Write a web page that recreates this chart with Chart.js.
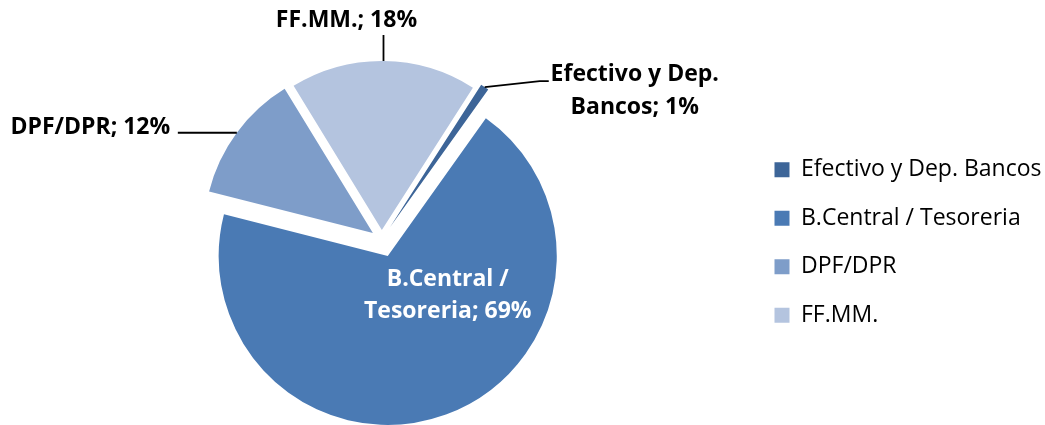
<!DOCTYPE html>
<html>
<head>
<meta charset="utf-8">
<script src="https://cdn.jsdelivr.net/npm/chart.js@4.4.0/dist/chart.umd.min.js"></script>
<style>
  html, body { margin: 0; padding: 0; background: #ffffff; }
  #wrap { width: 1045px; height: 425px; position: relative; }
</style>
</head>
<body>
<div id="wrap"><canvas id="c" width="1045" height="425"></canvas></div>
<script>
// ---- data ----
const categories = ['Efectivo y Dep. Bancos', 'B.Central / Tesoreria', 'DPF/DPR', 'FF.MM.'];
const values = [0.8, 69.1, 12.3, 17.8];

// ---- styles / layout (kept apart from the data) ----
const colors = ['#3D6598', '#4A7AB4', '#7E9DC9', '#B4C4DF'];
const explode = [15, 17.5, 11, 9.5];
const labelFontFamily = "'Open Sans', sans-serif";
const labelFontSize = 23;
const labelLineGap = 32.5;
// dx/dy: text-block centre relative to anchor (outer mid-point of slice, or slice centre for inside labels)
const labelLayout = [
  { inside: false, color: '#000', wrap: 180, dx: 150, dy: 2.5, leader: [[55, -6], [64, -6]] },
  { inside: true,  color: '#fff', wrap: 180, dx: 60,  dy: 37.75, leader: [] },
  { inside: false, color: '#000', wrap: 1000, dx: -146.5, dy: -7, leader: [[-59, 0]] },
  { inside: false, color: '#000', wrap: 1000, dx: -37, dy: -42.5, leader: [[0, -26]] }
];

function wrapText(ctx, text, maxW) {
  const words = text.split(' ');
  const lines = [];
  let cur = '';
  words.forEach(w => {
    const t = cur ? cur + ' ' + w : w;
    if (cur && ctx.measureText(t).width > maxW) { lines.push(cur); cur = w; }
    else cur = t;
  });
  if (cur) lines.push(cur);
  return lines;
}

const explodePlugin = {
  id: 'explodeSlices',
  afterDatasetUpdate(chart, args) {
    const meta = chart.getDatasetMeta(args.index);
    meta.data.forEach((arc, i) => {
      const d = explode[i] || 0;
      const mid = (arc.startAngle + arc.endAngle) / 2;
      arc.x += Math.cos(mid) * d;
      arc.y += Math.sin(mid) * d;
    });
  }
};

const labelPlugin = {
  id: 'sliceLabels',
  afterDatasetsDraw(chart) {
    const ctx = chart.ctx;
    const meta = chart.getDatasetMeta(0);
    const total = values.reduce((a, b) => a + b, 0);
    meta.data.forEach((arc, i) => {
      const L = labelLayout[i];
      const pct = Math.round(values[i] / total * 100);
      const text = categories[i] + '; ' + pct + '%';
      ctx.save();
      ctx.font = 'bold ' + labelFontSize + 'px ' + labelFontFamily;
      const lines = wrapText(ctx, text, L.wrap);
      const mid = (arc.startAngle + arc.endAngle) / 2;
      let ax, ay;
      if (L.inside) {
        ax = arc.x; ay = arc.y;
      } else {
        ax = arc.x + Math.cos(mid) * arc.outerRadius;
        ay = arc.y + Math.sin(mid) * arc.outerRadius;
        ctx.beginPath();
        ctx.moveTo(ax, ay);
        L.leader.forEach(p => ctx.lineTo(ax + p[0], ay + p[1]));
        ctx.strokeStyle = '#000';
        ctx.lineWidth = 1.8;
        ctx.stroke();
      }
      const cx = ax + L.dx, cy = ay + L.dy;
      const capH = 0.714 * labelFontSize;
      ctx.fillStyle = L.color;
      ctx.textAlign = 'center';
      ctx.textBaseline = 'alphabetic';
      lines.forEach((ln, k) => {
        const capCenter = cy + (k - (lines.length - 1) / 2) * labelLineGap;
        ctx.fillText(ln, cx, capCenter + capH / 2);
      });
      ctx.restore();
    });
  }
};

new Chart(document.getElementById('c'), {
  type: 'pie',
  data: {
    labels: categories,
    datasets: [{
      data: values,
      backgroundColor: colors,
      borderWidth: 0
    }]
  },
  options: {
    responsive: false,
    animation: false,
    events: [],
    rotation: 32.6,
    radius: 169,
    layout: { padding: { top: 54, bottom: 0, left: 14.5, right: -6.5 } },
    plugins: {
      legend: {
        position: 'right',
        title: { display: true, text: '', padding: 0, font: { size: 5 } },
        labels: {
          boxWidth: 15,
          boxHeight: 15,
          padding: 25.5,
          color: '#000',
          font: { family: "'Open Sans', sans-serif", size: 23 }
        }
      },
      tooltip: { enabled: false }
    }
  },
  plugins: [explodePlugin, labelPlugin]
});
</script>
</body>
</html>
